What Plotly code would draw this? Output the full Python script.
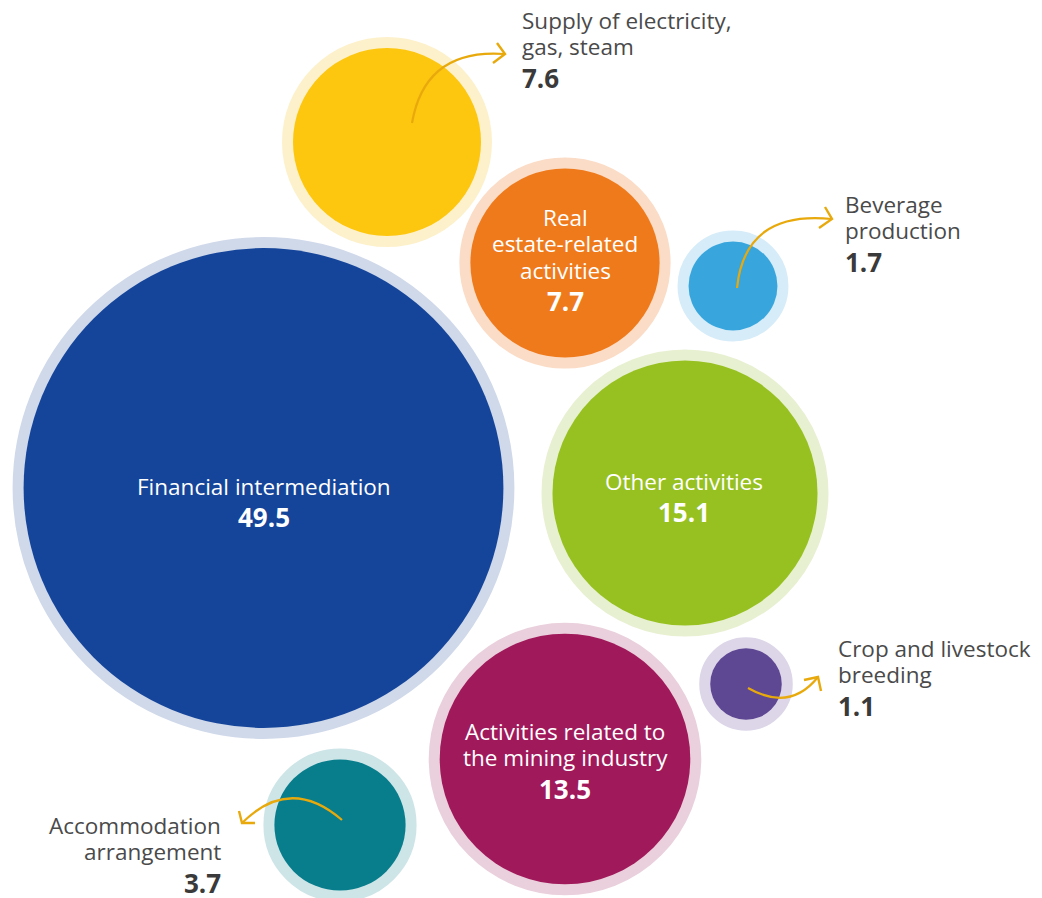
import plotly.graph_objects as go

# ---- data ----
categories = [
    "Financial intermediation",
    "Supply of electricity,<br>gas, steam",
    "Real<br>estate-related<br>activities",
    "Beverage<br>production",
    "Other activities",
    "Crop and livestock<br>breeding",
    "Activities related to<br>the mining industry",
    "Accommodation<br>arrangement",
]
values = [49.5, 7.6, 7.7, 1.7, 15.1, 1.1, 13.5, 3.7]

# ---- layout / style (positions in pixel-like axis units) ----
center_x = [263.5, 387, 565, 733, 685, 746, 565, 340]
center_y = [488, 142, 263, 286, 493, 684, 759, 825]
fill_colors = ["#15459A", "#FDC60F", "#EF7A1C", "#38A6DD", "#97C121", "#5E4793", "#A0195B", "#087D8C"]
ring_colors = ["#D0D9EA", "#FDF1CC", "#FBDCC6", "#D6ECF8", "#E8F0D2", "#DCD6E8", "#EAD0DC", "#CEE5E8"]
RING = 11
K = 34.1  # px radius per sqrt(value)
SIZEREF = 1.0 / (2 * K * K)

ARROW = "#E8A90C"
LABEL = "#4A4A4A"
NUM = "#3A3A3A"
FONT = "Open Sans"
LABEL_SIZE = 22.5
NUM_SIZE = 26
LINE_GAP = 26.5
NUM_GAP = 31
OFF = 8  # browser body margin

fig = go.Figure()

# ring (outer, lighter) bubbles
fig.add_trace(go.Scatter(
    x=center_x, y=center_y, mode="markers", hoverinfo="skip",
    marker=dict(size=values, sizemode="area", sizeref=SIZEREF, color=ring_colors,
                opacity=1, line=dict(width=2 * RING, color=ring_colors)),
    cliponaxis=False, showlegend=False,
))
# inner bubbles
fig.add_trace(go.Scatter(
    x=center_x, y=center_y, mode="markers", hoverinfo="skip",
    marker=dict(size=values, sizemode="area", sizeref=SIZEREF, color=fill_colors,
                opacity=1, line=dict(width=0)),
    cliponaxis=False, showlegend=False,
))

# labels: (index, x, y of first line, xanchor, inside?)
label_specs = [
    (0, 264, 486, "center", True),
    (1, 521, 20, "left", False),
    (2, 565, 217, "center", True),
    (3, 844, 204, "left", False),
    (4, 684, 481, "center", True),
    (5, 837, 648, "left", False),
    (6, 565, 731, "center", True),
    (7, 222, 825, "right", False),
]
for i, x, y0, xa, inside in label_specs:
    tcol = "white" if inside else LABEL
    ncol = "white" if inside else NUM
    lines = categories[i].split("<br>")
    y = y0
    for k, ln in enumerate(lines):
        y = y0 + k * LINE_GAP
        fig.add_annotation(x=x, y=y, xref="x", yref="y", text=ln, showarrow=False,
                           xanchor=xa, yanchor="middle", borderpad=0,
                           font=dict(family=FONT, size=LABEL_SIZE, color=tcol))
    fig.add_annotation(x=x, y=y + NUM_GAP, xref="x", yref="y", text=f"<b>{values[i]}</b>",
                       showarrow=False, xanchor=xa, yanchor="middle", borderpad=0,
                       font=dict(family=FONT, size=NUM_SIZE, color=ncol))

# curved arrows: (start, control, end, arm1, arm2)
arrows = [
    ((412, 123), (425, 48), (505, 54), (497, 43), (493, 63)),
    ((737, 288), (745, 210), (832, 219), (825, 207), (819, 228)),
    ((748, 688), (790, 712), (818, 677), (804, 680), (821, 691)),
    ((342, 820), (290, 775), (242, 823), (239, 811), (255, 823)),
]
for s, c, e, a1, a2 in arrows:
    fig.add_shape(type="path", xref="x", yref="y",
                  path=f"M {s[0]},{s[1]} Q {c[0]},{c[1]} {e[0]},{e[1]}",
                  line=dict(color=ARROW, width=2.2))
    fig.add_shape(type="path", xref="x", yref="y",
                  path=f"M {a1[0]},{a1[1]} L {e[0]},{e[1]} L {a2[0]},{a2[1]}",
                  line=dict(color=ARROW, width=2.4))

fig.update_layout(
    width=1042 - OFF, height=898 - OFF, margin=dict(l=0, r=0, t=0, b=0),
    paper_bgcolor="white", plot_bgcolor="white",
    xaxis=dict(range=[OFF, 1042], visible=False, fixedrange=True),
    yaxis=dict(range=[898, OFF], visible=False, fixedrange=True),
    showlegend=False, hovermode=False,
    font=dict(family=FONT),
)

fig.write_html("out.html")
